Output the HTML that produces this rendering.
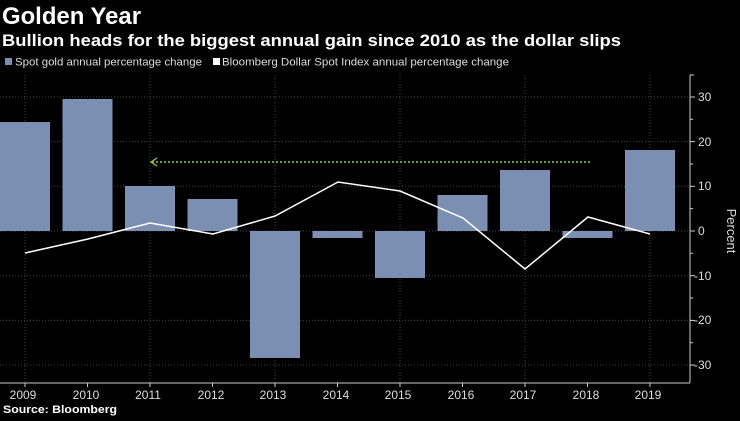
<!DOCTYPE html><html><head><style>body{margin:0;background:#000;}svg text{font-family:"Liberation Sans",sans-serif;}</style></head><body>
<svg width="740" height="416" viewBox="0 0 740 416" xmlns="http://www.w3.org/2000/svg">
<rect width="740" height="416" fill="#000"/>
<text x="2" y="24" fill="#fff" font-size="24" font-weight="bold" textLength="139" lengthAdjust="spacingAndGlyphs">Golden Year</text>
<text x="2" y="46" fill="#fff" font-size="17" font-weight="bold" textLength="619" lengthAdjust="spacingAndGlyphs">Bullion heads for the biggest annual gain since 2010 as the dollar slips</text>
<rect x="5" y="58" width="7" height="7" fill="#7b8fb2"/>
<text x="15" y="65.5" fill="#ddd" font-size="11" textLength="187" lengthAdjust="spacingAndGlyphs">Spot gold annual percentage change</text>
<rect x="213" y="58" width="7" height="7" fill="#fff"/>
<text x="222" y="65.5" fill="#ddd" font-size="11" textLength="287" lengthAdjust="spacingAndGlyphs">Bloomberg Dollar Spot Index annual percentage change</text>
<g stroke="#444" stroke-dasharray="1,2" stroke-width="1">
<line x1="0" x2="688" y1="97" y2="97"/><line x1="0" x2="688" y1="141.6" y2="141.6"/><line x1="0" x2="688" y1="186.3" y2="186.3"/><line x1="0" x2="688" y1="231" y2="231"/><line x1="0" x2="688" y1="275.7" y2="275.7"/><line x1="0" x2="688" y1="320.4" y2="320.4"/><line x1="0" x2="688" y1="365" y2="365"/>
<line x1="25" x2="25" y1="75" y2="383"/><line x1="150" x2="150" y1="75" y2="383"/><line x1="275" x2="275" y1="75" y2="383"/><line x1="400" x2="400" y1="75" y2="383"/><line x1="525" x2="525" y1="75" y2="383"/><line x1="650" x2="650" y1="75" y2="383"/>
</g>
<g fill="#7b8fb2">
<rect x="0" y="122" width="50" height="109"/>
<rect x="62.5" y="99" width="50" height="132"/>
<rect x="125" y="186" width="50" height="45"/>
<rect x="187.5" y="199" width="50" height="32"/>
<rect x="250" y="231" width="50" height="127"/>
<rect x="312.5" y="231" width="50" height="7"/>
<rect x="375" y="231" width="50" height="47"/>
<rect x="437.5" y="195" width="50" height="36"/>
<rect x="500" y="170" width="50" height="61"/>
<rect x="562.5" y="231" width="50" height="7"/>
<rect x="625" y="150" width="50" height="81"/>
</g>
<polyline fill="none" stroke="#fff" stroke-width="1.5" points="25,253 88,239 150,223 213,234 275,216 338,182 400,191 463,218 525,269 588,217 650,234"/>
<line x1="152" x2="590" y1="162" y2="162" stroke="#9acd32" stroke-width="1.5" stroke-dasharray="2,2"/>
<polyline fill="none" stroke="#9acd32" stroke-width="1.2" points="157,158 151,162 157,166"/>
<line x1="0" x2="690" y1="383" y2="383" stroke="#ccc"/>
<line x1="690" x2="690" y1="75" y2="383" stroke="#ccc"/>
<line x1="690" x2="694" y1="75" y2="75" stroke="#ccc"/>
<g stroke="#ccc"><line x1="690" x2="695" y1="97" y2="97"/><line x1="690" x2="695" y1="141.6" y2="141.6"/><line x1="690" x2="695" y1="186.3" y2="186.3"/><line x1="690" x2="695" y1="231" y2="231"/><line x1="690" x2="695" y1="275.7" y2="275.7"/><line x1="690" x2="695" y1="320.4" y2="320.4"/><line x1="690" x2="695" y1="365" y2="365"/>
<line x1="690" x2="693" y1="119.3" y2="119.3"/><line x1="690" x2="693" y1="164" y2="164"/><line x1="690" x2="693" y1="208.6" y2="208.6"/><line x1="690" x2="693" y1="253.3" y2="253.3"/><line x1="690" x2="693" y1="298" y2="298"/><line x1="690" x2="693" y1="342.7" y2="342.7"/>
<line x1="25" x2="25" y1="383" y2="387"/><line x1="87.5" x2="87.5" y1="383" y2="387"/><line x1="150" x2="150" y1="383" y2="387"/><line x1="212.5" x2="212.5" y1="383" y2="387"/><line x1="275" x2="275" y1="383" y2="387"/><line x1="337.5" x2="337.5" y1="383" y2="387"/><line x1="400" x2="400" y1="383" y2="387"/><line x1="462.5" x2="462.5" y1="383" y2="387"/><line x1="525" x2="525" y1="383" y2="387"/><line x1="587.5" x2="587.5" y1="383" y2="387"/><line x1="650" x2="650" y1="383" y2="387"/></g>
<g fill="#ddd" font-size="12">
<text x="698" y="101">30</text><text x="698" y="146">20</text><text x="698" y="190">10</text><text x="698" y="235">0</text><text x="694" y="280">-10</text><text x="694" y="324">-20</text><text x="694" y="369">-30</text>
</g>
<text transform="translate(727,231) rotate(90)" fill="#ddd" font-size="13" text-anchor="middle">Percent</text>
<g fill="#ddd" font-size="12" text-anchor="middle">
<text x="23" y="399">2009</text><text x="86" y="399">2010</text><text x="148" y="399">2011</text><text x="211" y="399">2012</text><text x="273" y="399">2013</text><text x="336" y="399">2014</text><text x="398" y="399">2015</text><text x="461" y="399">2016</text><text x="523" y="399">2017</text><text x="586" y="399">2018</text><text x="648" y="399">2019</text>
</g>
<text x="3" y="413" fill="#fff" font-size="11" font-weight="bold" textLength="114" lengthAdjust="spacingAndGlyphs">Source: Bloomberg</text>
</svg></body></html>
